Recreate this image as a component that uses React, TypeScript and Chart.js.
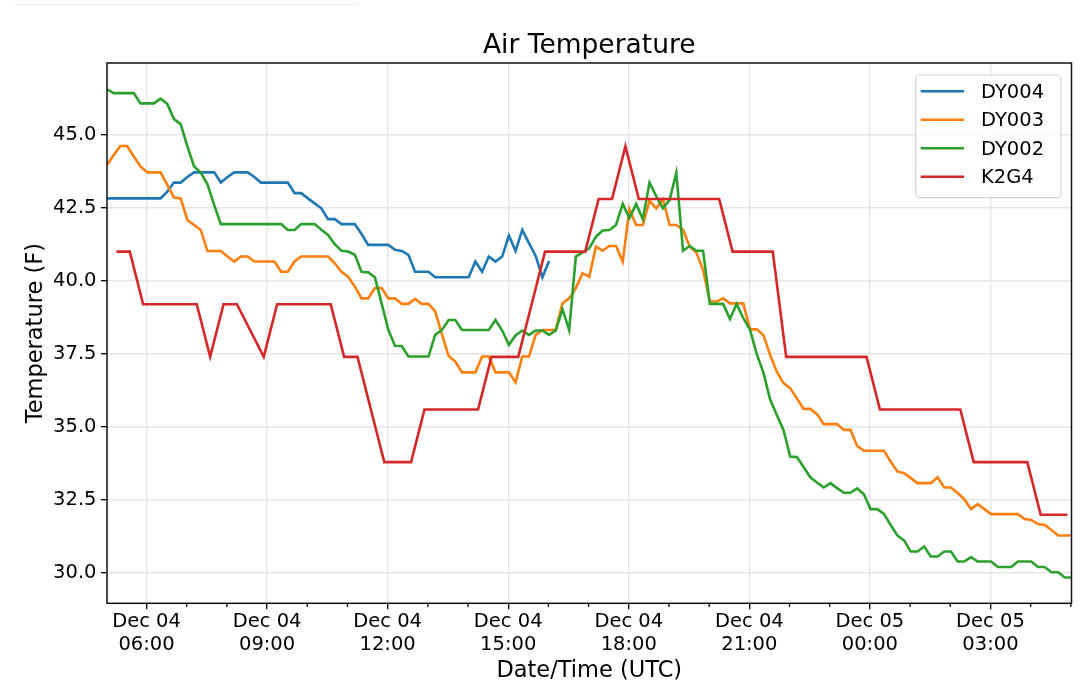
import React, { useEffect, useRef } from "react";
import { Chart, registerables } from "chart.js";

Chart.register(...registerables);

// ---------- text ----------
const chartTitle = "Air Temperature";
const xAxisTitle = "Date/Time (UTC)";
const yAxisTitle = "Temperature (F)";
const seriesNames = ["DY004", "DY003", "DY002", "K2G4"];
const seriesColors = ["#1f77b4", "#ff7f0e", "#2ca02c", "#d62728"];

// ---------- DY stations: one reading every 10 minutes from "04 05:01" ----------
const dyStart = "04 05:01";
const dyStepMinutes = 10;

const dy004 = [
  42.82, 42.82, 42.82, 42.82, 42.82, 42.82, 42.82, 42.82, 42.82, 43.05,
  43.36, 43.36, 43.55, 43.71, 43.71, 43.71, 43.71, 43.36, 43.55, 43.71,
  43.71, 43.71, 43.55, 43.36, 43.36, 43.36, 43.36, 43.36, 43.0, 43.0,
  42.82, 42.65, 42.48, 42.11, 42.11, 41.94, 41.94, 41.94, 41.6, 41.23,
  41.23, 41.23, 41.23, 41.06, 41.02, 40.89, 40.31, 40.31, 40.31, 40.12,
  40.12, 40.12, 40.12, 40.12, 40.12, 40.66, 40.31, 40.83, 40.66, 40.83,
  41.55, 41.02, 41.74, 41.29, 40.85, 40.12, 40.68,
];

const dy003 = [
  43.96, 44.3, 44.61, 44.61, 44.25, 43.91, 43.71, 43.71, 43.71, 43.28,
  42.85, 42.82, 42.08, 41.91, 41.74, 41.02, 41.02, 41.02, 40.83, 40.66,
  40.83, 40.83, 40.66, 40.66, 40.66, 40.66, 40.31, 40.31, 40.66, 40.83,
  40.83, 40.83, 40.83, 40.83, 40.6, 40.31, 40.14, 39.8, 39.4, 39.4,
  39.75, 39.75, 39.4, 39.4, 39.21, 39.21, 39.38, 39.21, 39.21, 38.95,
  38.18, 37.43, 37.24, 36.87, 36.87, 36.87, 37.41, 37.41, 36.87, 36.87,
  36.87, 36.53, 37.41, 37.41, 38.15, 38.32, 38.32, 38.32, 39.23, 39.4,
  39.75, 40.26, 40.14, 41.17, 41.03, 41.19, 41.19, 40.66, 42.45, 41.91,
  41.91, 42.74, 42.48, 42.79, 41.91, 41.91, 41.74, 41.17, 40.96, 40.37,
  39.29, 39.29, 39.4, 39.23, 39.23, 39.23, 38.34, 38.34, 38.15, 37.47,
  36.89, 36.5, 36.33, 35.98, 35.62, 35.62, 35.44, 35.1, 35.1, 35.1,
  34.9, 34.9, 34.35, 34.19, 34.19, 34.19, 34.19, 33.82, 33.48, 33.42,
  33.25, 33.08, 33.08, 33.08, 33.28, 32.93, 32.93, 32.74, 32.53, 32.19,
  32.36, 32.19, 32.02, 32.02, 32.02, 32.02, 32.02, 31.85, 31.82, 31.68,
  31.65, 31.48, 31.29, 31.29, 31.29,
];

const dy002 = [
  46.55, 46.42, 46.42, 46.42, 46.42, 46.07, 46.07, 46.07, 46.23, 46.05,
  45.53, 45.36, 44.6, 43.91, 43.7, 43.3, 42.6, 41.94, 41.94, 41.94,
  41.94, 41.94, 41.94, 41.94, 41.94, 41.94, 41.94, 41.74, 41.74, 41.94,
  41.94, 41.94, 41.75, 41.57, 41.25, 41.03, 41.0, 40.89, 40.31, 40.29,
  40.12, 39.23, 38.32, 37.78, 37.77, 37.41, 37.41, 37.41, 37.41, 38.15,
  38.32, 38.66, 38.66, 38.32, 38.32, 38.32, 38.32, 38.32, 38.66, 38.3,
  37.81, 38.13, 38.3, 38.15, 38.3, 38.3, 38.15, 38.3, 39.03, 38.32,
  40.83, 40.97, 41.11, 41.51, 41.72, 41.74, 41.91, 42.63, 42.14, 42.63,
  42.11, 43.36, 42.9, 42.48, 42.77, 43.7, 41.03, 41.19, 41.03, 41.03,
  39.21, 39.21, 39.21, 38.69, 39.21, 38.72, 38.33, 37.5, 36.86, 35.95,
  35.41, 34.9, 33.99, 33.97, 33.63, 33.28, 33.1, 32.93, 33.08, 32.91,
  32.75, 32.75, 32.9, 32.7, 32.19, 32.19, 32.03, 31.65, 31.29, 31.12,
  30.74, 30.74, 30.91, 30.57, 30.57, 30.74, 30.74, 30.4, 30.4, 30.55,
  30.4, 30.4, 30.4, 30.21, 30.21, 30.21, 30.4, 30.4, 30.4, 30.21,
  30.21, 30.03, 30.03, 29.85, 29.85,
];

// ---------- K2G4 airport reports ----------
const k2g4Times = [
  "04 05:15", "04 05:35", "04 05:55", "04 06:15", "04 06:35", "04 06:55",
  "04 07:15", "04 07:35", "04 07:55", "04 08:15", "04 08:55", "04 09:15",
  "04 09:35", "04 09:55", "04 10:15", "04 10:35", "04 10:55", "04 11:15",
  "04 11:35", "04 11:55", "04 12:15", "04 12:35", "04 12:55", "04 13:15",
  "04 13:35", "04 13:55", "04 14:15", "04 14:35", "04 14:55", "04 15:15",
  "04 15:35", "04 15:55", "04 16:15", "04 16:35", "04 16:55", "04 17:15",
  "04 17:35", "04 17:55", "04 18:15", "04 18:35", "04 18:55", "04 19:15",
  "04 19:35", "04 19:55", "04 20:15", "04 20:35", "04 20:55", "04 21:15",
  "04 21:35", "04 21:55", "04 22:15", "04 22:35", "04 22:55", "04 23:15",
  "04 23:35", "04 23:55", "05 00:15", "05 00:35", "05 00:55", "05 01:15",
  "05 01:35", "05 01:55", "05 02:15", "05 02:35", "05 02:55", "05 03:15",
  "05 03:35", "05 03:55", "05 04:15", "05 04:35", "05 04:55",
];
const k2g4 = [
  41.0, 41.0, 39.2, 39.2, 39.2, 39.2,
  39.2, 37.4, 39.2, 39.2, 37.4, 39.2,
  39.2, 39.2, 39.2, 39.2, 37.4, 37.4,
  35.6, 33.8, 33.8, 33.8, 35.6, 35.6,
  35.6, 35.6, 35.6, 37.4, 37.4, 37.4,
  39.2, 41.0, 41.0, 41.0, 41.0, 42.8,
  42.8, 44.6, 42.8, 42.8, 42.8, 42.8,
  42.8, 42.8, 42.8, 41.0, 41.0, 41.0,
  41.0, 37.4, 37.4, 37.4, 37.4, 37.4,
  37.4, 37.4, 35.6, 35.6, 35.6, 35.6,
  35.6, 35.6, 35.6, 33.8, 33.8, 33.8,
  33.8, 33.8, 32.0, 32.0, 32.0,
];

// ---------- axis ticks ----------
const xTickHours = [6, 9, 12, 15, 18, 21, 24, 27];
const yTicks = [30, 32.5, 35, 37.5, 40, 42.5, 45];
const monthLabel = "Dec";
const baseDay = 4;

// hours since Dec 04 00:00
function parseTime(s: string): number {
  const day = parseInt(s.slice(0, 2), 10);
  const hh = parseInt(s.slice(3, 5), 10);
  const mm = parseInt(s.slice(6, 8), 10);
  return (day - baseDay) * 24 + hh + mm / 60;
}
const pad2 = (n: number) => String(n).padStart(2, "0");

const FONT = "'DejaVu Sans', sans-serif";

const decorPlugin = {
  id: "decor",
  afterDatasetsDraw(chart: any) {
    const { ctx, chartArea: a, scales } = chart;
    const xs = scales.x;
    ctx.save();
    // minor hourly tick marks
    ctx.strokeStyle = "#000";
    ctx.lineWidth = 1.3;
    for (let h = Math.ceil(xs.min); h <= xs.max; h++) {
      if (h % 3 === 0) continue;
      const px = xs.getPixelForValue(h);
      ctx.beginPath();
      ctx.moveTo(px, a.bottom);
      ctx.lineTo(px, a.bottom + 3.8);
      ctx.stroke();
    }
    // axes frame
    ctx.lineWidth = 1.5;
    ctx.strokeStyle = "#111";
    ctx.strokeRect(a.left, a.top, a.right - a.left, a.bottom - a.top);

    // legend
    const w = 145.3;
    const h = 122.7;
    const lx = a.right - 10.5 - w;
    const ly = a.top + 12;
    ctx.beginPath();
    ctx.roundRect(lx, ly, w, h, 4);
    ctx.fillStyle = "rgba(255,255,255,0.8)";
    ctx.fill();
    ctx.strokeStyle = "#d4d4d4";
    ctx.lineWidth = 1.2;
    ctx.stroke();
    ctx.font = `19.5px ${FONT}`;
    ctx.textBaseline = "middle";
    ctx.textAlign = "left";
    chart.data.datasets.forEach((ds: any, i: number) => {
      const y = ly + 16.2 + i * 28.5;
      ctx.strokeStyle = ds.borderColor;
      ctx.lineWidth = 2.6;
      ctx.beginPath();
      ctx.moveTo(lx + 5, y);
      ctx.lineTo(lx + 48.3, y);
      ctx.stroke();
      ctx.fillStyle = "#000";
      ctx.fillText(ds.label, lx + 65.3, y + 1.3);
    });
    ctx.restore();
  },
};

export default function App() {
  const ref = useRef<HTMLCanvasElement | null>(null);

  useEffect(() => {
    if (!ref.current) return;
    const t0 = parseTime(dyStart);
    const step = dyStepMinutes / 60;
    const dyPoints = (vals: number[]) => vals.map((v, i) => ({ x: t0 + i * step, y: v }));
    const redPoints = k2g4.map((v, i) => ({ x: parseTime(k2g4Times[i]), y: v }));
    const xMin = t0;
    const xMax = t0 + (dy002.length - 1) * step;

    const allSeries = [dyPoints(dy004), dyPoints(dy003), dyPoints(dy002), redPoints];
    const datasets = allSeries.map((pts, i) => ({
      label: seriesNames[i],
      data: pts,
      borderColor: seriesColors[i],
      backgroundColor: seriesColors[i],
      borderWidth: 2.6,
      pointRadius: 0,
      tension: 0,
      fill: false,
      order: allSeries.length - i,
    }));

    const chart = new Chart(ref.current, {
      type: "line",
      data: { datasets },
      plugins: [decorPlugin],
      options: {
        animation: false,
        responsive: false,
        events: [],
        layout: { padding: { left: 0, right: 8.5, top: 0, bottom: 0 } },
        plugins: {
          legend: { display: false },
          tooltip: { enabled: false },
          title: {
            display: true,
            text: chartTitle,
            fullSize: false,
            color: "#000",
            font: { family: FONT, size: 26.5, weight: "normal", lineHeight: 1.2 },
            padding: { top: 30.5, bottom: 0.7 },
          },
        },
        scales: {
          x: {
            type: "linear",
            position: "bottom",
            min: xMin,
            max: xMax,
            afterBuildTicks: (scale: any) => {
              scale.ticks = xTickHours.map((v) => ({ value: v }));
            },
            afterFit: (scale: any) => {
              scale.height = 91.7;
            },
            ticks: {
              autoSkip: false,
              maxRotation: 0,
              minRotation: 0,
              color: "#000",
              padding: 1.4,
              font: { family: FONT, size: 19.5, lineHeight: 1.16 },
              callback: (value: any) => {
                const v = Number(value);
                const day = baseDay + Math.floor(v / 24);
                const hh = ((v % 24) + 24) % 24;
                return [`${monthLabel} ${pad2(day)}`, `${pad2(hh)}:00`];
              },
            },
            grid: {
              color: "#e6e6e6",
              lineWidth: 1.4,
              drawTicks: true,
              tickLength: 6,
              tickColor: "#000",
              tickWidth: 1.3,
            },
            border: { display: false },
            title: {
              display: true,
              text: xAxisTitle,
              color: "#000",
              font: { family: FONT, size: 22.5, lineHeight: 1.2 },
              padding: { top: 0, bottom: 10 },
            },
          },
          y: {
            type: "linear",
            position: "left",
            min: 28.97,
            max: 47.45,
            afterBuildTicks: (scale: any) => {
              scale.ticks = yTicks.map((v) => ({ value: v }));
            },
            afterFit: (scale: any) => {
              scale.width = 107;
            },
            ticks: {
              color: "#000",
              padding: 4.5,
              font: { family: FONT, size: 19.5 },
              callback: (value: any) => Number(value).toFixed(1),
            },
            grid: {
              color: "#e6e6e6",
              lineWidth: 1.4,
              drawTicks: true,
              tickLength: 6,
              tickColor: "#000",
              tickWidth: 1.3,
            },
            border: { display: false },
            title: {
              display: true,
              text: yAxisTitle,
              color: "#000",
              font: { family: FONT, size: 22.5, lineHeight: 1.2 },
              padding: { top: 22.2, bottom: 0 },
            },
          },
        },
      } as any,
    });
    return () => chart.destroy();
  }, []);

  return (
    <div style={{ position: "fixed", left: 0, top: 0, width: 1080, height: 695, background: "#fff" }}>
      <div style={{ position: "absolute", left: 15, top: 4, width: 343, height: 1, background: "#eeeeee" }} />
      <canvas
        ref={ref}
        width={1080}
        height={695}
        style={{ position: "absolute", left: 0, top: 0, width: 1080, height: 695 }}
      />
    </div>
  );
}
